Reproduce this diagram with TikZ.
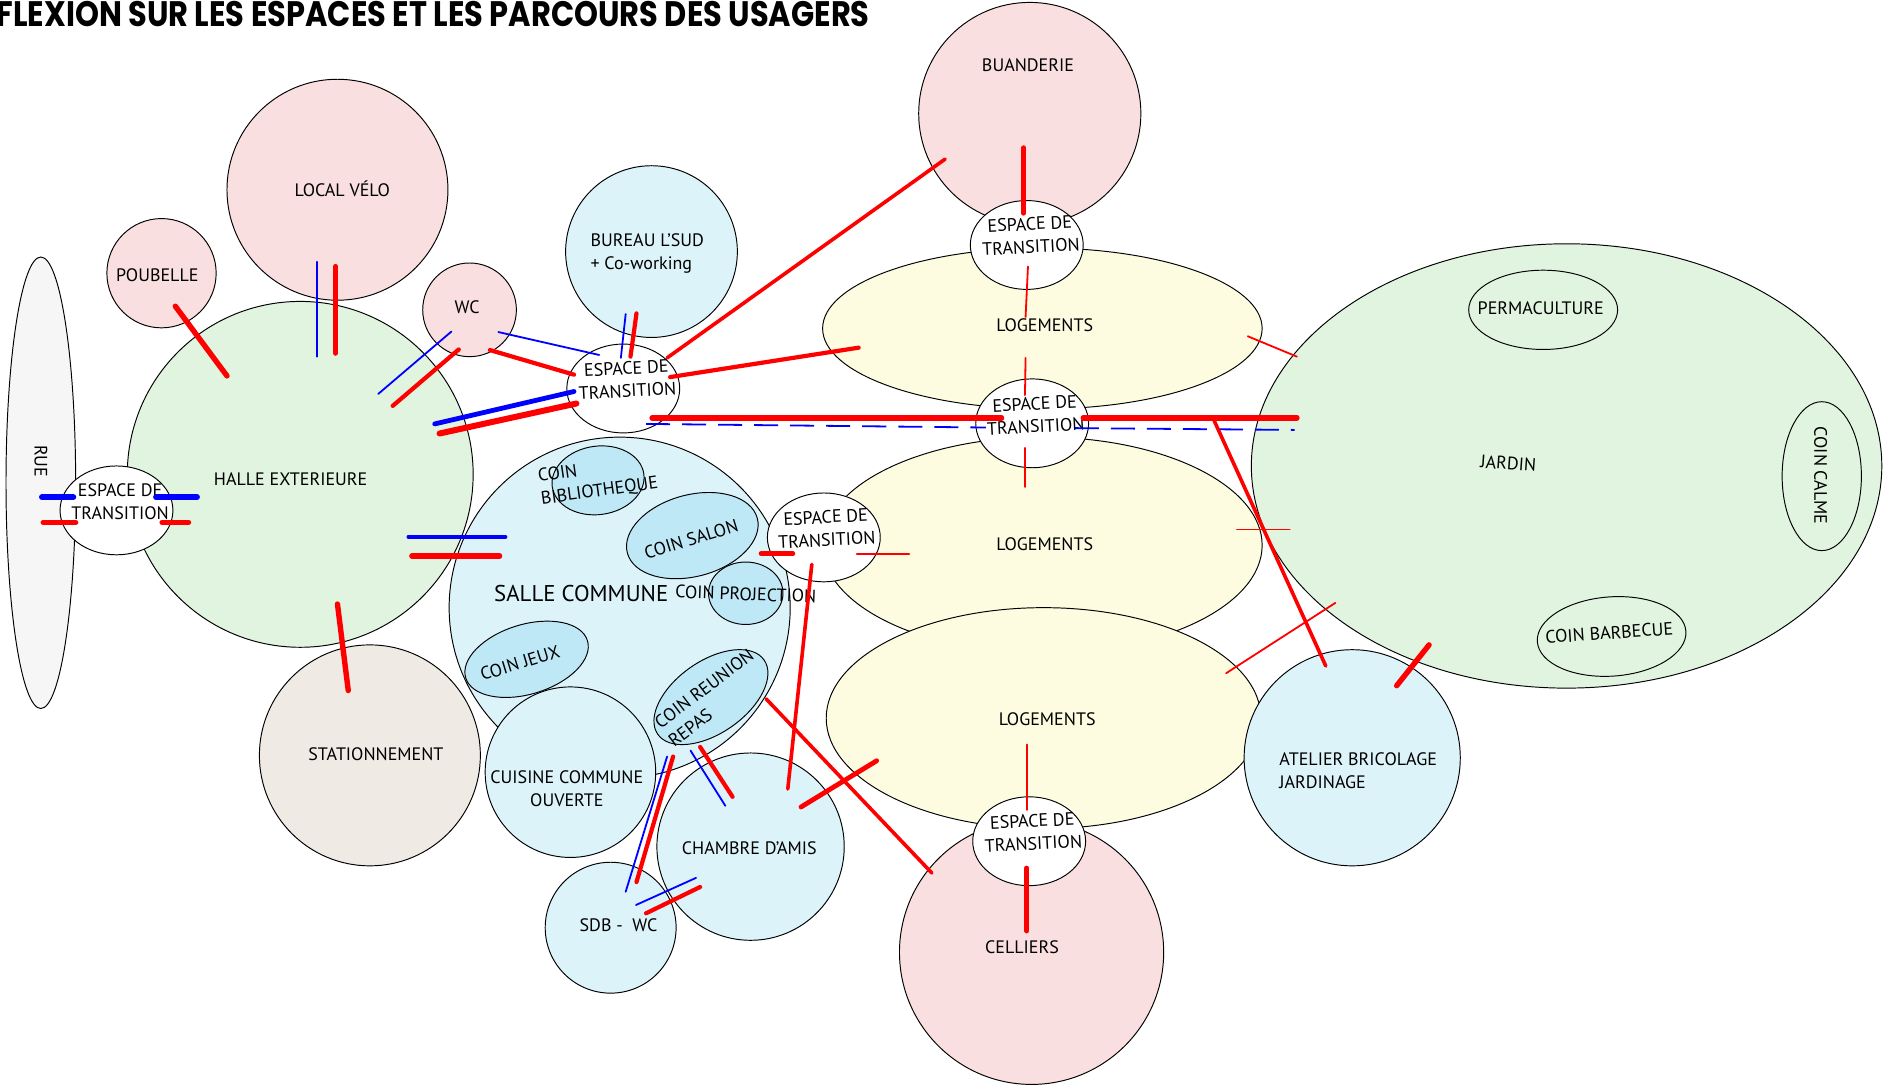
\documentclass[tikz,border=0pt]{standalone}
\usepackage{fontspec}
\setmainfont{PT Sans}
\newfontfamily\titlefont{Poppins}
\usetikzlibrary{shapes.geometric}

\definecolor{rose}{RGB}{249,223,223}
\definecolor{vert}{RGB}{225,244,224}
\definecolor{bleu}{RGB}{221,243,250}
\definecolor{coinbleu}{RGB}{191,232,247}
\definecolor{creme}{RGB}{253,252,224}
\definecolor{beige}{RGB}{239,234,228}
\definecolor{gris}{RGB}{246,246,246}

\tikzset{
  bulle/.style={circle, draw=black, line width=0.8pt, inner sep=0pt},
  ovale/.style={ellipse, draw=black, line width=0.8pt, inner sep=0pt},
  transit/.style={ovale, fill=white, minimum width=94pt, minimum height=74pt},
  lbl/.style={inner sep=0pt, font=\fontsize{15}{19}\selectfont, align=center},
  rg/.style={red, line width=#1, line cap=round},
  bl/.style={blue, line width=#1, line cap=round},
}

\begin{document}
\begin{tikzpicture}[x=1pt, y=-1pt]
\useasboundingbox (0,0) rectangle (1568,904.3);

%\draw[step=50, gray!40] (0,0) grid (1568,904);

\node[anchor=north west, inner sep=0pt] (titre) at (-3,0.5) {\resizebox{727pt}{21pt}{\titlefont\bfseries FLEXION SUR LES ESPACES ET LES PARCOURS DES USAGERS}};

% rue + halle
\node[ovale, fill=gris, minimum width=58pt, minimum height=376pt] (rue) at (34,402) {};
\node[lbl, rotate=-90] (ruet) at (34,384) {RUE};

\node[bulle, fill=rose, minimum size=91pt] (poubelle) at (134.5,227.5) {};
\node[lbl] (poubellet) at (131,229) {POUBELLE};
\node[bulle, fill=rose, minimum size=184pt] (velo) at (281,158) {};
\node[lbl] (velot) at (285,157) {LOCAL VÉLO};
\node[bulle, fill=beige, minimum size=184pt] (parking) at (308,629) {};
\node[lbl] (parkingt) at (313,628) {STATIONNEMENT};
\node[bulle, fill=vert, minimum size=288pt] (halle) at (250,395) {};
\node[lbl] (hallet) at (242,399) {HALLE EXTERIEURE};
\node[transit] (tr1) at (97,425) {};
\node[lbl] (tr1t) at (100,418) {ESPACE DE\\TRANSITION};

\node[bulle, fill=rose, minimum size=78pt] (wc) at (391,258) {};
\node[lbl] (wct) at (389,256) {WC};
\node[bulle, fill=bleu, minimum size=143pt] (bureau) at (542.5,209.5) {};
\node[lbl, align=left] (bureaut) at (539,211) {BUREAU L'SUD\\+ Co-working};
\node[transit] (tr2) at (519,323.5) {};
\node[lbl, rotate=3] (tr2t) at (522,316) {ESPACE DE\\TRANSITION};

% salle commune
\node[bulle, fill=bleu, minimum size=284pt] (salle) at (516,506) {};
\node[bulle, fill=bleu, minimum size=142pt] (cuisine) at (475,643) {};
\node[lbl] (cuisinet) at (472,657) {CUISINE COMMUNE\\OUVERTE};
\node[ovale, fill=coinbleu, minimum width=77pt, minimum height=57pt, rotate=8] (biblio) at (498,400) {};
\node[lbl, align=left, rotate=8] (bibliot) at (498,400) {COIN\\BIBLIOTHEQUE};
\node[ovale, fill=coinbleu, minimum width=112pt, minimum height=68pt, rotate=15] (salon) at (576.5,446) {};
\node[lbl, rotate=17] (salont) at (575.5,449) {COIN SALON};
\node[ovale, fill=coinbleu, minimum width=62pt, minimum height=52pt] (projo) at (621,494) {};
\node[lbl, rotate=-2] (projot) at (621,494.6) {COIN PROJECTION};
\node[ovale, fill=coinbleu, minimum width=106pt, minimum height=58pt, rotate=17] (jeux) at (438.5,549) {};
\node[lbl, rotate=17] (jeuxt) at (433,552) {COIN JEUX};
\node[ovale, fill=coinbleu, minimum width=108pt, minimum height=60pt, rotate=35] (reunion) at (592,580.5) {};
\node[lbl, align=left, rotate=37] (reuniont) at (592,581) {COIN REUNION\\REPAS};
\node[lbl, font=\fontsize{19}{22}\selectfont] (sallet) at (484,494) {SALLE COMMUNE};

\node[bulle, fill=bleu, minimum size=156pt] (chambre) at (625,705) {};
\node[lbl] (chambret) at (624,706) {CHAMBRE D'AMIS};
\node[bulle, fill=bleu, minimum size=109pt] (sdb) at (508.5,772.5) {};
\node[lbl] (sdbt) at (515,770) {SDB -\ \ WC};

% logements
\node[bulle, fill=rose, minimum size=185pt] (buanderie) at (857.5,94.5) {};
\node[lbl] (buanderiet) at (856,54) {BUANDERIE};
\node[ovale, fill=creme, minimum width=366pt, minimum height=134pt] (log1) at (868,273.5) {};
\node[lbl] (log1t) at (870,271) {LOGEMENTS};
\node[transit] (tr4) at (855,204) {};
\node[lbl, rotate=3] (tr4t) at (858,196) {ESPACE DE\\TRANSITION};
\node[ovale, fill=creme, minimum width=366pt, minimum height=180pt] (log2) at (868,454) {};
\node[lbl] (log2t) at (870,453) {LOGEMENTS};
\node[transit] (tr3) at (859.5,352.5) {};
\node[lbl, rotate=3] (tr3t) at (862,345.5) {ESPACE DE\\TRANSITION};
\node[transit] (tr5) at (686,447.5) {};
\node[lbl, rotate=3] (tr5t) at (688,440) {ESPACE DE\\TRANSITION};
\node[bulle, fill=rose, minimum size=220pt] (celliers) at (859,793) {};
\node[lbl] (cellierst) at (851,789) {CELLIERS};
\node[ovale, fill=creme, minimum width=362pt, minimum height=184pt] (log3) at (869,598) {};
\node[lbl] (log3t) at (872,599) {LOGEMENTS};
\node[transit] (tr6) at (857,700.5) {};
\node[lbl, rotate=3] (tr6t) at (860,693) {ESPACE DE\\TRANSITION};

% jardin
\node[ovale, fill=vert, minimum width=525pt, minimum height=370pt] (jardin) at (1304.5,388) {};
\node[lbl, rotate=-4] (jardint) at (1256,386) {JARDIN};
\node[ovale, fill=vert, minimum width=124pt, minimum height=66pt] (perma) at (1285,258) {};
\node[lbl] (permat) at (1283,257) {PERMACULTURE};
\node[ovale, fill=vert, minimum width=66pt, minimum height=124pt] (calme) at (1517,396.5) {};
\node[lbl, rotate=-90] (calmet) at (1516,396) {COIN CALME};
\node[ovale, fill=vert, minimum width=124pt, minimum height=66pt, rotate=4] (bbq) at (1342,530) {};
\node[lbl, rotate=4] (bbqt) at (1340,527) {COIN BARBECUE};
\node[bulle, fill=bleu, minimum size=180pt] (atelier) at (1126,631) {};
\node[lbl, align=left] (ateliert) at (1131,641.5) {ATELIER BRICOLAGE\\JARDINAGE};

% passages
\draw[bl=5] (35,414)--(61,414);
\draw[bl=5] (130,414)--(164,414);
\draw[rg=4.5] (36,435)--(63,435);
\draw[rg=4.5] (135,435)--(157,435);
\draw[rg=4.5] (146,255)--(189,313);
\draw[bl=1.5] (264,218)--(264,297);
\draw[rg=4.5] (279.5,222)--(279.5,294);
\draw[bl=1.5] (376,276)--(315,328);
\draw[rg=3.5] (382,291)--(327,338);
\draw[bl=1.5] (415,276.5)--(499,295.6);
\draw[rg=3.5] (408,291.5)--(478,312);
\draw[bl=4] (362,353)--(478,326);
\draw[rg=5] (366,361)--(480,336);
\draw[bl=1.5] (521,261.5)--(517,298);
\draw[rg=3.5] (530,261)--(525,297);
\draw[rg=3] (555.5,298)--(787,132.5);
\draw[rg=3.5] (558,314)--(715,289.5);
\draw[rg=4.5] (543,348)--(834,348);
\draw[rg=4.5] (902,348)--(1080,348);
\draw[bl=1.5, line cap=butt, dash pattern=on 20pt off 10pt] (538,353)--(821,356);
\draw[bl=1.5, line cap=butt, dash pattern=on 20pt off 10pt] (895,356.5)--(1078,358);
\draw[rg=4] (852.5,123)--(852.5,177.6);
\draw[rg=1.5] (856,222)--(854,264);
\draw[rg=1.5] (854,298)--(853.5,329);
\draw[rg=1.5] (1039,280)--(1080,297);
\draw[rg=1.5] (853.5,373)--(853.5,405.5);
\draw[rg=1.5] (1030,441)--(1074,441);
\draw[rg=1.5] (713.5,461)--(757,461);
\draw[rg=4.5] (634,461)--(660,461);
\draw[rg=3] (676,470)--(656,657);
\draw[rg=1.5] (855,620)--(855,674.5);
\draw[rg=4.5] (855,723)--(855,775);
\draw[rg=3] (638,582)--(776,727);
\draw[rg=4] (667,672)--(730,633.5);
\draw[rg=3] (1010,348)--(1104,554.6);
\draw[rg=1.5] (1021,560.6)--(1112,502);
\draw[rg=4.5] (1163,571)--(1190,537);
\draw[bl=3] (340,447)--(421,447);
\draw[rg=4.5] (343,463)--(416,463);
\draw[rg=4.5] (281,503)--(290,575);
\draw[bl=1.5] (575,625)--(604,671);
\draw[rg=3.5] (583,622)--(610,663.5);
\draw[bl=1.5] (555.5,630)--(521,742.6);
\draw[rg=3.5] (560.5,630)--(530,734.5);
\draw[bl=1.5] (529.6,753.6)--(579.6,731);
\draw[rg=3.5] (538,760.5)--(583,738.6);

\end{tikzpicture}
\end{document}
